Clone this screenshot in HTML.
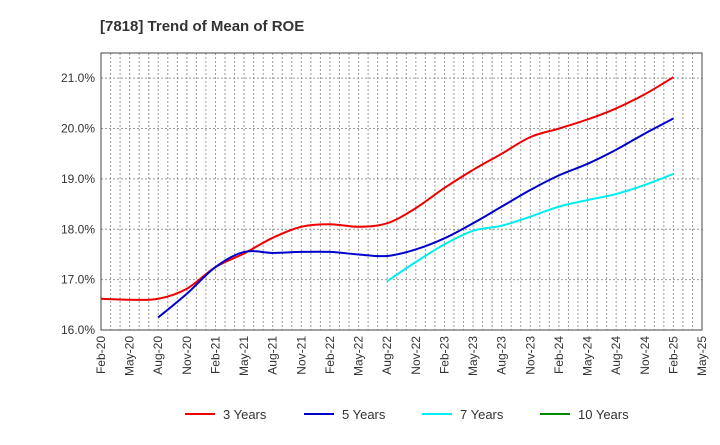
<!DOCTYPE html>
<html><head><meta charset="utf-8"><style>
body{margin:0;background:#fff;font-family:"Liberation Sans",sans-serif}
</style></head><body>
<svg id="c" width="720" height="440" xmlns="http://www.w3.org/2000/svg" font-family="Liberation Sans, sans-serif">
<text x="100" y="31" font-size="15" font-weight="bold" fill="#333">[7818]  Trend of Mean of ROE</text>
<g id="grid"></g><g id="axes"></g><g id="series"></g><g id="legend"></g>
</svg>
<script>
const xLabels=["Feb-20","May-20","Aug-20","Nov-20","Feb-21","May-21","Aug-21","Nov-21","Feb-22","May-22","Aug-22","Nov-22","Feb-23","May-23","Aug-23","Nov-23","Feb-24","May-24","Aug-24","Nov-24","Feb-25","May-25"];
const yTicks=[16,17,18,19,20,21];
const seriesNames=["3 Years","5 Years","7 Years","10 Years"];
const seriesColors=["#e00","#00c","#0ee","#080"];
const s3=[16.62,16.60,16.62,16.82,17.25,17.52,17.83,18.05,18.10,18.05,18.12,18.42,18.82,19.18,19.50,19.83,20.00,20.18,20.40,20.68,21.02];
const s5=[16.25,16.72,17.25,17.55,17.53,17.55,17.55,17.50,17.47,17.60,17.82,18.12,18.45,18.78,19.07,19.30,19.58,19.90,20.20];
const s7=[16.97,17.35,17.70,17.97,18.07,18.25,18.45,18.58,18.70,18.88,19.10];
const s10=[];
const starts=[0,2,10,0];
const L=101,R=702,T=53,B=330,ymin=16,ymax=21.5;
const X=q=>L+(R-L)*q/21, Y=v=>B-(B-T)*(v-ymin)/(ymax-ymin);
const NS="http://www.w3.org/2000/svg";
function mk(t,a,p){const e=document.createElementNS(NS,t);for(const k in a)e.setAttribute(k,a[k]);p.appendChild(e);return e;}
const g=document.getElementById('grid'),ax=document.getElementById('axes'),sg=document.getElementById('series'),lg=document.getElementById('legend');
for(let m=1;m<63;m++){const x=L+(R-L)*m/63;const l=mk('line',{x1:x,x2:x,y1:T,y2:B,stroke:'#999','stroke-dasharray':'2,2','stroke-width':1},g);

}
yTicks.forEach(v=>{const l=mk('line',{x1:L,x2:R,y1:Y(v),y2:Y(v),stroke:'#999','stroke-dasharray':'2,2'},g);


const t=mk('text',{x:L-6,y:Y(v)+4,'text-anchor':'end','font-size':12,fill:'#333'},ax);t.textContent=v.toFixed(1)+'%';

});
const fr=mk('rect',{x:L,y:T,width:R-L,height:B-T,fill:'none',stroke:'#444','stroke-width':1},ax);


xLabels.forEach((s,i)=>{const x=X(i);const t=mk('text',{x:x+4,y:B+6,'text-anchor':'end','font-size':12,fill:'#333',transform:`rotate(-90 ${x+4} ${B+6})`},ax);t.textContent=s;

});
[s3,s5,s7,s10].forEach((d,si)=>{if(!d.length)return;const p=d.map((v,i)=>[X(starts[si]+i),Y(v)]);
let path=`M${p[0][0]},${p[0][1]}`;for(let i=0;i<p.length-1;i++){const p0=p[i-1]||p[i],p1=p[i],p2=p[i+1],p3=p[i+2]||p2;
path+=` C${p1[0]+(p2[0]-p0[0])/6},${p1[1]+(p2[1]-p0[1])/6} ${p2[0]-(p3[0]-p1[0])/6},${p2[1]-(p3[1]-p1[1])/6} ${p2[0]},${p2[1]}`;}
const e=mk('path',{d:path,fill:'none',stroke:seriesColors[si],'stroke-width':2},sg);

});
const lx=[185,304,422,540];
seriesNames.forEach((n,i)=>{const gg=mk('g',{},lg);


mk('line',{x1:lx[i],x2:lx[i]+30,y1:414,y2:414,stroke:seriesColors[i],'stroke-width':2},gg);
const t=mk('text',{x:lx[i]+38,y:419,'font-size':13,fill:'#333'},gg);t.textContent=n;});
</script>
</body></html>
